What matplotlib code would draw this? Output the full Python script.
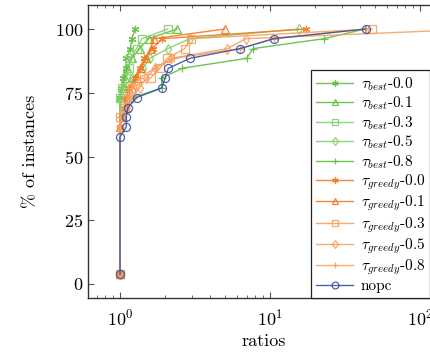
import matplotlib
matplotlib.use("Agg")
import matplotlib.pyplot as plt

plt.rcParams['font.family'] = ['cmr10', 'DejaVu Serif']
plt.rcParams['mathtext.fontset'] = 'cm'
plt.rcParams['axes.formatter.use_mathtext'] = True
plt.rcParams['axes.unicode_minus'] = False

# ---- data (ratio, % of instances) ----
best00_r = [1, 1, 1.02, 1.05, 1.09, 1.1, 1.17, 1.2, 1.26]
best00_v = [3.85, 73.1, 76.9, 80.8, 84.6, 88.5, 92.3, 96.2, 100]
best01_r = [1, 1, 1.04, 1.08, 1.12, 1.2, 1.35, 1.55, 2.4]
best01_v = [3.85, 73.1, 76.9, 80.8, 84.6, 88.5, 92.3, 96.2, 100]
best03_r = [1, 1, 1.03, 1.1, 1.15, 1.17, 1.29, 1.4, 2.08]
best03_v = [3.85, 73.1, 76.9, 80.8, 84.6, 88.5, 92.3, 96.2, 100]
best05_r = [1, 1, 1.05, 1.2, 1.42, 1.58, 2.08, 2.93, 15.6]
best05_v = [3.85, 73.1, 76.9, 80.8, 84.6, 88.5, 92.3, 96.2, 100]
best08_r = [1, 1, 1.1, 1.22, 1.9, 1.9, 2.6, 7.0, 7.7, 22.9, 43]
best08_v = [3.85, 65.4, 69.2, 73.1, 76.9, 80.8, 84.6, 88.5, 92.3, 96.2, 100]

greedy00_r = [1, 1, 1.03, 1.06, 1.1, 1.15, 1.25, 1.35, 1.45, 1.65, 1.9, 17.5]
greedy00_v = [3.85, 61.5, 65.4, 69.2, 73.1, 76.9, 80.8, 84.6, 88.5, 92.3, 96.2, 100]
greedy01_r = [1, 1, 1.05, 1.1, 1.13, 1.2, 1.3, 1.38, 1.5, 1.6, 1.68, 5.0]
greedy01_v = [3.85, 61.5, 65.4, 69.2, 73.1, 76.9, 80.8, 84.6, 88.5, 92.3, 96.2, 100]
greedy03_r = [1, 1, 1.08, 1.12, 1.2, 1.6, 1.85, 2.06, 2.7, 2.97, 48]
greedy03_v = [3.85, 65.4, 69.2, 73.1, 76.9, 80.8, 84.6, 88.5, 92.3, 96.2, 100]
greedy05_r = [1, 1, 1.05, 1.1, 1.2, 1.35, 1.5, 1.7, 2.2, 5.2, 6.9, 250]
greedy05_v = [3.85, 61.5, 65.4, 69.2, 73.1, 76.9, 80.8, 84.6, 88.5, 92.3, 96.2, 100]
greedy08_r = [1, 1, 1.05, 1.1, 1.15, 1.2, 1.35, 1.7, 2.3, 6.3, 10.6, 43.4]
greedy08_v = [3.85, 61.5, 65.4, 69.2, 73.1, 76.9, 80.8, 84.6, 88.5, 92.3, 96.2, 100]

nopc_r = [1, 1, 1.1, 1.1, 1.13, 1.29, 1.9, 2.0, 2.1, 2.93, 6.3, 10.6, 43.4]
nopc_v = [3.85, 57.7, 61.5, 65.4, 69.2, 73.1, 76.9, 80.8, 84.6, 88.5, 92.3, 96.2, 100]

yticks = [0, 25, 50, 75, 100]

G1 = '#5dbf3f'
G2 = '#86cf6c'
O1 = '#f07a22'
O2 = '#f5a261'
B = '#3b52a3'
ast = (6, 2, 0)

series = [
    (best00_r, best00_v, G1, ast, r'$\tau_{best}$-0.0'),
    (best01_r, best01_v, G1, '^', r'$\tau_{best}$-0.1'),
    (best03_r, best03_v, G2, 's', r'$\tau_{best}$-0.3'),
    (best05_r, best05_v, G2, 'd', r'$\tau_{best}$-0.5'),
    (best08_r, best08_v, G1, '+', r'$\tau_{best}$-0.8'),
    (greedy00_r, greedy00_v, O1, ast, r'$\tau_{greedy}$-0.0'),
    (greedy01_r, greedy01_v, O1, '^', r'$\tau_{greedy}$-0.1'),
    (greedy03_r, greedy03_v, O2, 's', r'$\tau_{greedy}$-0.3'),
    (greedy05_r, greedy05_v, O2, 'd', r'$\tau_{greedy}$-0.5'),
    (greedy08_r, greedy08_v, O2, '+', r'$\tau_{greedy}$-0.8'),
    (nopc_r, nopc_v, B, 'o', 'nopc'),
]

fig = plt.figure(figsize=(4.3, 3.55), dpi=100)
ax = fig.add_axes([88/430, 1-298/355, 352/430, 293/355])

for r, v, c, m, lab in series:
    ms = 5.8 if m in ('s', 'o') else 5.3
    ax.plot(r, v, color=c, lw=1.0, marker=m, markersize=ms,
            markerfacecolor='none', markeredgecolor=c, markeredgewidth=0.9,
            label=lab, alpha=0.9)

ax.set_xscale('log')
ax.set_xlim(10**((88-120)/150), 10**((440-120)/150))
ax.set_ylim((284-298)/2.55, (284-5)/2.55)
ax.set_yticks(yticks)
ax.tick_params(which='both', direction='in', top=True, right=True,
               labelsize=13, color='#555555')
ax.tick_params(axis='x', pad=7)
ax.tick_params(which='major', length=4)
ax.tick_params(which='minor', length=2.5)
for s in ax.spines.values():
    s.set_color('#333333')
    s.set_linewidth(1.0)
ax.set_xlabel('ratios', fontsize=13, labelpad=4)
ax.set_ylabel('% of instances', fontsize=13, labelpad=12)

leg = fig.legend(loc='upper left', bbox_to_anchor=(311/430, 1-70/355),
                 bbox_transform=fig.transFigure, fontsize=11,
                 frameon=True, fancybox=False, edgecolor='#222222',
                 framealpha=1, borderaxespad=0, handlelength=2.4,
                 labelspacing=0.12, borderpad=0.35, handletextpad=0.5,
                 markerscale=0.85)
leg.get_frame().set_linewidth(0.9)

fig.savefig('out.png', dpi=100)
